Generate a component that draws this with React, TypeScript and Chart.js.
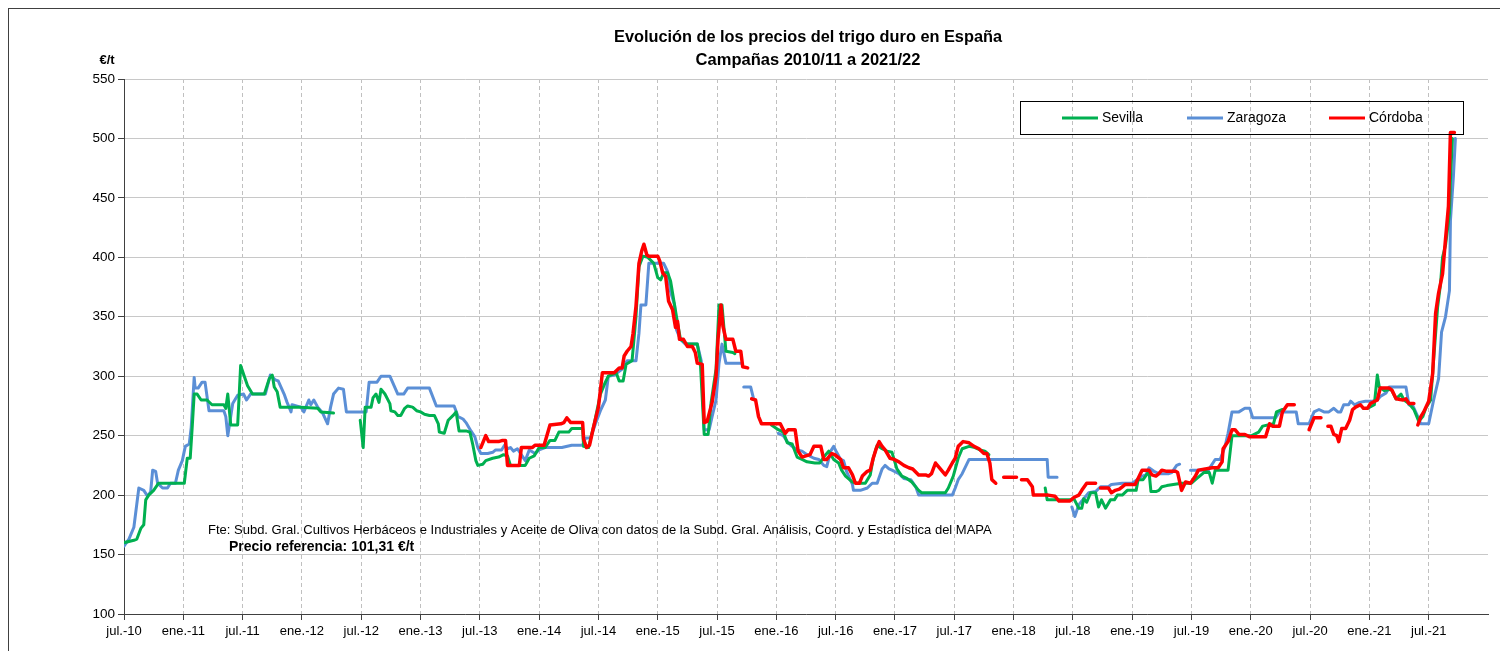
import React, { useEffect, useRef } from "react";
import { Chart, registerables } from "chart.js";

Chart.register(...registerables);

const TITLE_LINES = ["Evolución de los precios del trigo duro en España", "Campañas 2010/11 a 2021/22"];
const UNIT_LABEL = "€/t";
const SOURCE_NOTE =
  "Fte: Subd. Gral. Cultivos Herbáceos e Industriales y Aceite de Oliva con datos de la Subd. Gral. Análisis, Coord. y Estadística del MAPA";
const REFERENCE_NOTE = "Precio referencia: 101,31 €/t";

// x values = months elapsed since July 2010
const X_TICK_LABELS = [
  "jul.-10", "ene.-11", "jul.-11", "ene.-12", "jul.-12", "ene.-13", "jul.-13", "ene.-14",
  "jul.-14", "ene.-15", "jul.-15", "ene.-16", "jul.-16", "ene.-17", "jul.-17", "ene.-18",
  "jul.-18", "ene.-19", "jul.-19", "ene.-20", "jul.-20", "ene.-21", "jul.-21",
];
const X_TICK_STEP = 6;
const X_MAX = 138;
const Y_MIN = 100;
const Y_MAX = 550;
const Y_STEP = 50;

type Pt = [number, number | null];

const sevilla: Pt[] = [
  [0, 160], [1.0, 162], [1.3, 163], [1.7, 172], [2.0, 175], [2.2, 196], [2.5, 200], [3.0, 204], [3.5, 210],
  [6.1, 210], [6.4, 231], [6.7, 231], [6.9, 257], [7.1, 285], [7.4, 285], [7.8, 280], [8.4, 280], [8.9, 276],
  [10.1, 276], [10.3, 273], [10.5, 285], [10.8, 259], [11.5, 259], [11.8, 309], [12.5, 292], [13.0, 285],
  [14.2, 285], [14.7, 298], [15.0, 301], [15.2, 291], [15.5, 287], [15.8, 274], [17.9, 274], [19.6, 273],
  [19.9, 270], [21.2, 269], [21.3, null],
  [23.9, 263], [24.2, 240], [24.4, 274], [25.0, 274], [25.2, 282], [25.5, 285], [25.8, 278], [26.0, 289],
  [26.4, 285], [26.9, 277], [27.0, 271], [27.4, 270], [27.7, 267], [28.0, 267], [28.4, 273], [28.7, 275],
  [29.2, 274], [29.6, 271], [30.0, 270], [30.4, 268], [30.9, 267], [31.4, 267], [31.8, 260], [31.9, 253],
  [32.4, 252], [32.8, 263], [33.3, 267], [33.6, 270], [33.9, 254], [34.6, 254], [35.0, 253], [35.3, 242],
  [35.6, 229], [35.8, 225], [36.3, 226], [36.6, 229], [37.3, 231], [37.9, 232], [38.4, 234], [38.8, 233],
  [39.1, 225], [40.6, 225], [41.0, 231], [41.5, 233], [42.0, 240], [42.6, 240], [43.1, 246], [43.6, 246],
  [44.0, 253], [45.0, 253], [45.3, 256], [46.4, 256], [46.5, 241], [47.0, 240], [47.6, 261], [48.2, 285],
  [48.7, 295], [49.0, 300], [49.8, 303], [50.1, 296], [50.5, 296], [50.8, 310], [51.4, 313], [51.8, 350],
  [52.1, 392], [52.5, 401], [53.0, 400], [53.6, 395], [54.0, 383], [54.3, 381], [54.6, 387], [55.0, 387],
  [55.3, 380], [55.7, 360], [56.0, 345], [56.3, 331], [57.0, 327], [58.0, 327], [58.3, 313], [58.7, 251],
  [59.1, 251], [59.4, 278], [59.9, 306], [60.2, 360], [60.5, 360], [60.9, 321], [61.6, 320], [61.8, 319],
  [61.9, null],
  [65.5, 259], [66.2, 255], [66.7, 253], [67.1, 244], [67.6, 243], [68.1, 232], [68.6, 230], [69.1, 228],
  [69.9, 227], [70.4, 227], [70.8, 232], [71.3, 237], [71.8, 230], [72.3, 227], [72.6, 221], [73.0, 216],
  [73.7, 211], [74.2, 210], [75.0, 210], [75.5, 217], [75.8, 231], [76.2, 242], [76.7, 239], [77.2, 237],
  [77.7, 236], [78.2, 222], [78.7, 216], [79.2, 214], [79.7, 211], [80.4, 204], [80.7, 202], [83.1, 202],
  [83.4, 206], [83.9, 216], [84.4, 231], [84.8, 239], [85.5, 241], [86.1, 240], [86.6, 238], [87.1, 237],
  [87.5, 234], [87.6, null],
  [93.2, 206], [93.4, 196], [95.7, 196], [96.1, 197], [96.6, 189], [96.9, 189], [97.1, 197], [97.4, 194],
  [97.8, 202], [98.3, 202], [98.6, 190], [98.9, 196], [99.3, 189], [99.8, 196], [100.2, 196], [100.5, 200],
  [101.0, 200], [101.5, 204], [102.4, 204], [102.6, 213], [103.1, 213], [103.7, 220], [103.9, 203],
  [104.4, 203], [104.7, 204], [105.0, 207], [105.5, 208], [107.0, 210], [108.0, 210], [108.4, 213],
  [109.4, 220], [109.8, 219], [110.1, 210], [110.4, 221], [111.7, 221], [112.1, 250], [114.1, 250],
  [114.8, 253], [115.2, 258], [116.3, 260], [116.6, 270], [117.2, 272], [117.4, null],
  [125.8, 273], [126.5, 276], [126.8, 301], [127.0, 291], [127.5, 288], [128.2, 289], [128.7, 281],
  [129.2, 285], [129.5, 280], [130.0, 277], [130.5, 272], [131.0, 262], [131.4, 266], [131.7, 273],
  [132.2, 280], [132.5, 314], [132.9, 358], [133.2, 378], [133.4, 400], [133.7, 410], [134.1, 437],
  [134.2, 465], [134.4, 500],
];

const zaragoza: Pt[] = [
  [0, 157], [0.5, 163], [1.0, 173], [1.5, 206], [2.0, 204], [2.4, 199], [2.7, 203], [2.9, 221], [3.2, 220],
  [3.4, 210], [3.9, 206], [4.4, 206], [4.7, 210], [5.2, 210], [5.5, 221], [5.9, 229], [6.2, 241], [6.6, 243],
  [6.8, 257], [7.1, 299], [7.2, 290], [7.5, 290], [7.9, 295], [8.2, 295], [8.6, 271], [10.1, 271], [10.3, 266],
  [10.5, 250], [11.0, 277], [11.5, 284], [12.1, 285], [12.4, 280], [12.8, 285], [14.3, 285], [14.8, 301],
  [15.3, 297], [15.6, 296], [16.2, 285], [16.5, 278], [16.9, 270], [17.0, 276], [17.9, 274], [18.2, 270],
  [18.7, 280], [18.9, 276], [19.2, 280], [19.6, 274], [20.1, 269], [20.6, 260], [20.9, 274], [21.2, 285],
  [21.7, 290], [22.2, 289], [22.5, 270], [24.5, 270], [24.8, 295], [25.6, 295], [26.0, 300], [26.9, 300],
  [27.7, 285], [28.3, 285], [28.7, 290], [30.9, 290], [31.6, 275], [33.4, 275], [33.8, 266], [34.3, 264],
  [34.6, 261], [35.1, 254], [35.5, 249], [35.8, 240], [36.1, 235], [36.8, 235], [37.3, 236], [37.6, 238],
  [38.2, 238], [38.5, 242], [38.8, 239], [39.1, 240], [39.4, 237], [39.8, 239], [40.6, 229], [41.0, 238],
  [41.6, 235], [42.0, 238], [42.6, 240], [44.3, 240], [45.3, 242], [46.4, 242], [46.7, 248], [47.2, 248],
  [47.7, 260], [48.2, 271], [48.7, 280], [49.0, 300], [49.6, 301], [50.4, 306], [50.9, 313], [51.8, 313],
  [52.1, 336], [52.3, 360], [52.8, 360], [53.1, 395], [54.6, 395], [55.0, 388], [55.3, 371], [55.7, 360],
  [55.9, 339], [56.3, 331], [56.8, 327], [58.0, 327], [58.4, 313], [58.7, 255], [59.2, 255], [59.5, 266],
  [59.9, 280], [60.2, 311], [60.5, 327], [60.9, 311], [62.4, 311], [62.5, null],
  [62.7, 291], [63.4, 291], [63.7, 281], [63.8, null],
  [66.2, 252], [66.7, 250], [67.2, 244], [67.6, 241], [68.1, 238], [68.6, 237], [69.1, 234], [69.8, 231],
  [70.3, 230], [70.8, 225], [71.1, 224], [71.5, 237], [71.8, 241], [72.1, 236], [72.5, 230], [72.8, 229],
  [73.1, 220], [73.7, 209], [73.8, 204], [74.5, 204], [75.2, 206], [75.7, 210], [76.2, 210], [76.7, 222],
  [77.0, 225], [77.4, 222], [77.7, 221], [78.4, 218], [78.9, 214], [79.6, 213], [80.1, 207], [80.4, 200],
  [83.8, 200], [84.1, 206], [84.4, 213], [84.8, 218], [85.5, 230], [93.4, 230], [93.5, 215], [94.4, 215],
  [94.5, null],
  [95.9, 190], [96.2, 182], [96.6, 192], [97.1, 197], [97.6, 202], [98.3, 203], [98.8, 207], [99.6, 207],
  [99.9, 209], [101.0, 210], [102.0, 210], [102.5, 213], [103.0, 216], [103.4, 217], [103.7, 223],
  [104.2, 220], [104.7, 218], [105.7, 218], [106.0, 219], [106.5, 225], [106.8, 226], [106.9, null],
  [107.9, 221], [109.7, 221], [110.4, 230], [110.9, 230], [111.4, 241], [111.7, 252], [112.1, 270],
  [112.8, 270], [113.4, 273], [113.9, 273], [114.2, 265], [116.5, 265], [116.9, 270], [118.6, 270],
  [118.8, 260], [119.9, 260], [120.4, 270], [120.9, 272], [121.4, 270], [121.9, 270], [122.4, 273],
  [122.8, 270], [123.1, 270], [123.4, 276], [123.9, 276], [124.1, 279], [124.5, 276], [125.0, 278],
  [125.6, 279], [126.3, 279], [126.8, 280], [127.1, 283], [127.7, 286], [128.0, 291], [129.7, 291],
  [130.0, 276], [130.4, 275], [130.9, 266], [131.2, 260], [132.0, 260], [132.5, 280], [133.0, 298],
  [133.3, 337], [133.7, 350], [134.1, 372], [134.2, 431], [134.5, 468], [134.7, 500],
];

const cordoba: Pt[] = [
  [36.1, 240], [36.6, 250], [36.9, 245], [37.9, 245], [38.3, 246], [38.6, 246], [38.8, 225], [40.0, 225],
  [40.2, 240], [41.3, 240], [41.6, 242], [42.5, 242], [43.1, 259], [44.2, 260], [44.5, 261], [44.8, 265],
  [45.2, 261], [46.4, 261], [46.5, 247], [46.8, 240], [47.1, 242], [47.5, 257], [48.0, 274], [48.4, 303],
  [49.6, 303], [50.1, 307], [50.4, 307], [50.6, 317], [50.9, 321], [51.3, 325], [51.5, 336], [51.8, 359],
  [52.1, 395], [52.4, 406], [52.6, 411], [52.9, 402], [53.1, 401], [54.0, 401], [54.2, 397], [54.5, 387],
  [54.8, 384], [55.1, 363], [55.5, 356], [55.8, 341], [56.0, 346], [56.2, 331], [56.6, 331], [57.0, 325],
  [57.5, 325], [57.8, 320], [58.0, 311], [58.5, 310], [58.7, 261], [59.0, 262], [59.5, 278], [59.9, 300],
  [60.1, 331], [60.4, 360], [60.6, 342], [60.9, 331], [61.6, 331], [61.9, 321], [62.4, 321], [62.6, 308],
  [63.1, 307], [63.2, null],
  [63.5, 281], [63.9, 280], [64.2, 266], [64.5, 260], [66.4, 260], [66.7, 255], [66.9, 252], [67.2, 255],
  [67.9, 255], [68.2, 237], [68.6, 232], [69.4, 234], [69.8, 241], [70.5, 241], [70.8, 230], [71.1, 230],
  [71.6, 235], [71.9, 234], [72.5, 230], [72.8, 223], [73.3, 223], [73.7, 217], [74.0, 210], [74.4, 210],
  [74.7, 216], [75.2, 220], [75.5, 221], [75.8, 231], [76.1, 239], [76.4, 245], [76.7, 241], [77.0, 238],
  [77.5, 231], [77.9, 230], [78.4, 228], [78.9, 225], [79.4, 223], [79.8, 222], [80.4, 217], [81.1, 217],
  [81.4, 216], [81.7, 218], [82.1, 227], [82.4, 224], [82.8, 220], [83.1, 217], [83.4, 221], [83.8, 227],
  [84.1, 231], [84.4, 241], [84.9, 245], [85.5, 244], [86.0, 241], [86.5, 239], [87.0, 235], [87.3, 235],
  [87.6, 227], [87.8, 213], [88.2, 210], [88.3, null],
  [89.0, 215], [90.3, 215], [90.4, null],
  [90.8, 213], [91.4, 213], [91.9, 207], [92.0, 200], [93.5, 200], [94.2, 199], [94.6, 195], [95.7, 195],
  [96.1, 198], [96.6, 200], [96.9, 204], [97.4, 210], [98.3, 210], [98.4, null],
  [98.8, 206], [99.6, 206], [99.9, 202], [100.3, 204], [100.7, 205], [101.0, 207], [101.3, 209],
  [102.3, 209], [102.6, 214], [103.0, 221], [103.7, 221], [104.0, 217], [104.4, 216], [104.7, 218],
  [105.0, 221], [105.5, 220], [106.4, 220], [106.6, 219], [107.0, 204], [107.4, 211], [107.9, 210],
  [108.4, 216], [108.7, 221], [110.1, 223], [110.7, 223], [111.1, 228], [111.2, 239], [111.7, 245],
  [112.1, 255], [112.4, 255], [112.8, 251], [113.4, 251], [113.9, 249], [115.5, 249], [115.9, 260],
  [116.2, 258], [116.9, 258], [117.2, 270], [117.7, 276], [118.4, 276], [118.5, null],
  [119.9, 255], [120.4, 265], [121.1, 265], [121.2, null],
  [121.8, 258], [122.1, 258], [122.4, 251], [122.7, 250], [122.9, 245], [123.2, 256], [123.6, 256],
  [124.0, 263], [124.3, 272], [124.6, 274], [125.1, 276], [125.4, 273], [125.8, 273], [126.1, 277],
  [126.8, 280], [127.1, 290], [128.0, 290], [128.3, 288], [128.7, 281], [129.4, 280], [129.7, 281],
  [130.0, 277], [130.5, 277], [130.6, null],
  [130.9, 259], [131.2, 266], [131.5, 270], [132.0, 279], [132.4, 302], [132.7, 353], [133.0, 370],
  [133.4, 386], [133.7, 415], [134.0, 443], [134.2, 505], [134.6, 505],
];

const SERIES_NAMES = ["Sevilla", "Zaragoza", "Córdoba"];
const SERIES_COLORS = ["#00b050", "#5b8fd6", "#ff0000"];

const FONT = "'Liberation Sans', Arial, sans-serif";

const overlayPlugin = {
  id: "overlayTexts",
  afterDraw(chart: any) {
    const ctx: CanvasRenderingContext2D = chart.ctx;
    ctx.save();
    ctx.fillStyle = "#000";
    ctx.textBaseline = "middle";
    ctx.textAlign = "center";
    ctx.font = `bold 16.5px ${FONT}`;
    ctx.fillText(TITLE_LINES[0], 800, 29, 388);
    ctx.fillText(TITLE_LINES[1], 800, 52, 231);
    ctx.font = `bold 13px ${FONT}`;
    ctx.fillText(UNIT_LABEL, 99, 52, 20);

    ctx.textAlign = "left";
    ctx.font = `13px ${FONT}`;
    ctx.fillText(SOURCE_NOTE, 200, 522, 793);
    ctx.font = `bold 14px ${FONT}`;
    ctx.fillText(REFERENCE_NOTE, 221, 539, 190);

    // legend box
    ctx.strokeStyle = "#000";
    ctx.lineWidth = 1;
    ctx.strokeRect(1012.5, 93.5, 443, 33);
    const lineStarts = [1054, 1179, 1321];
    const textWidths = [41, 59, 56];
    chart.data.datasets.forEach((ds: any, i: number) => {
      const x0 = lineStarts[i];
      ctx.strokeStyle = ds.borderColor;
      ctx.lineWidth = 3;
      ctx.beginPath();
      ctx.moveTo(x0, 110);
      ctx.lineTo(x0 + 36, 110);
      ctx.stroke();
      ctx.fillStyle = "#000";
      ctx.font = `14px ${FONT}`;
      ctx.fillText(ds.label, x0 + 40, 110.5, textWidths[i]);
    });
    ctx.restore();
  },
};

export default function App() {
  const canvasRef = useRef<HTMLCanvasElement | null>(null);

  useEffect(() => {
    document.documentElement.style.overflow = "hidden";
    const canvas = canvasRef.current;
    if (!canvas) return;
    const seriesList = [sevilla, zaragoza, cordoba];
    const chart = new Chart(canvas, {
      type: "line",
      data: {
        datasets: seriesList.map((s, i) => ({
          label: SERIES_NAMES[i],
          data: s.map(([x, y]) => ({ x, y })),
          borderColor: SERIES_COLORS[i],
          backgroundColor: SERIES_COLORS[i],
          borderWidth: i === 2 ? 3.5 : 3,
          pointRadius: 0,
          tension: 0,
          spanGaps: false,
          borderJoinStyle: "round",
          borderCapStyle: "round",
          order: i === 2 ? 0 : i === 0 ? 1 : 2,
        })),
      },
      options: {
        animation: false,
        responsive: false,
        devicePixelRatio: 1,
        layout: { padding: { left: 0, top: 71, right: 20, bottom: 0 } },
        plugins: {
          legend: { display: false },
          title: { display: false },
          tooltip: { enabled: false },
        },
        scales: {
          x: {
            type: "linear",
            min: 0,
            max: X_MAX,
            afterBuildTicks: (scale: any) => {
              scale.ticks = X_TICK_LABELS.map((_, i) => ({ value: i * X_TICK_STEP }));
            },
            afterFit: (scale: any) => {
              scale.height = 37;
            },
            ticks: {
              autoSkip: false,
              maxRotation: 0,
              padding: 4,
              color: "#000",
              font: { family: FONT, size: 13 },
              callback: (value: any) => X_TICK_LABELS[Math.round(Number(value) / X_TICK_STEP)] ?? "",
            },
            grid: {
              color: "#c0c0c0",
              lineWidth: 1,
              tickLength: 6,
              tickColor: "#404040",
              tickBorderDash: [],
            },
            border: { display: true, color: "#404040", width: 1, dash: [4, 3] },
          },
          y: {
            min: Y_MIN,
            max: Y_MAX,
            afterFit: (scale: any) => {
              scale.width = 116;
            },
            ticks: {
              stepSize: Y_STEP,
              padding: 3,
              color: "#000",
              font: { family: FONT, size: 13.5 },
            },
            grid: {
              color: "#c8c8c8",
              lineWidth: 1,
              tickLength: 6,
              tickColor: "#404040",
            },
            border: { display: true, color: "#404040", width: 1 },
          },
        },
      },
      plugins: [overlayPlugin],
    } as any);
    return () => chart.destroy();
  }, []);

  return (
    <div style={{ position: "relative", width: 1500, height: 643, overflow: "hidden" }}>
      <div
        style={{
          position: "absolute",
          left: 0,
          top: 0,
          width: 1520,
          height: 700,
          border: "1px solid #404040",
          boxSizing: "border-box",
        }}
      />
      <canvas
        ref={canvasRef}
        width={1500}
        height={643}
        style={{ position: "absolute", left: 0, top: 0, width: 1500, height: 643 }}
      />
    </div>
  );
}
